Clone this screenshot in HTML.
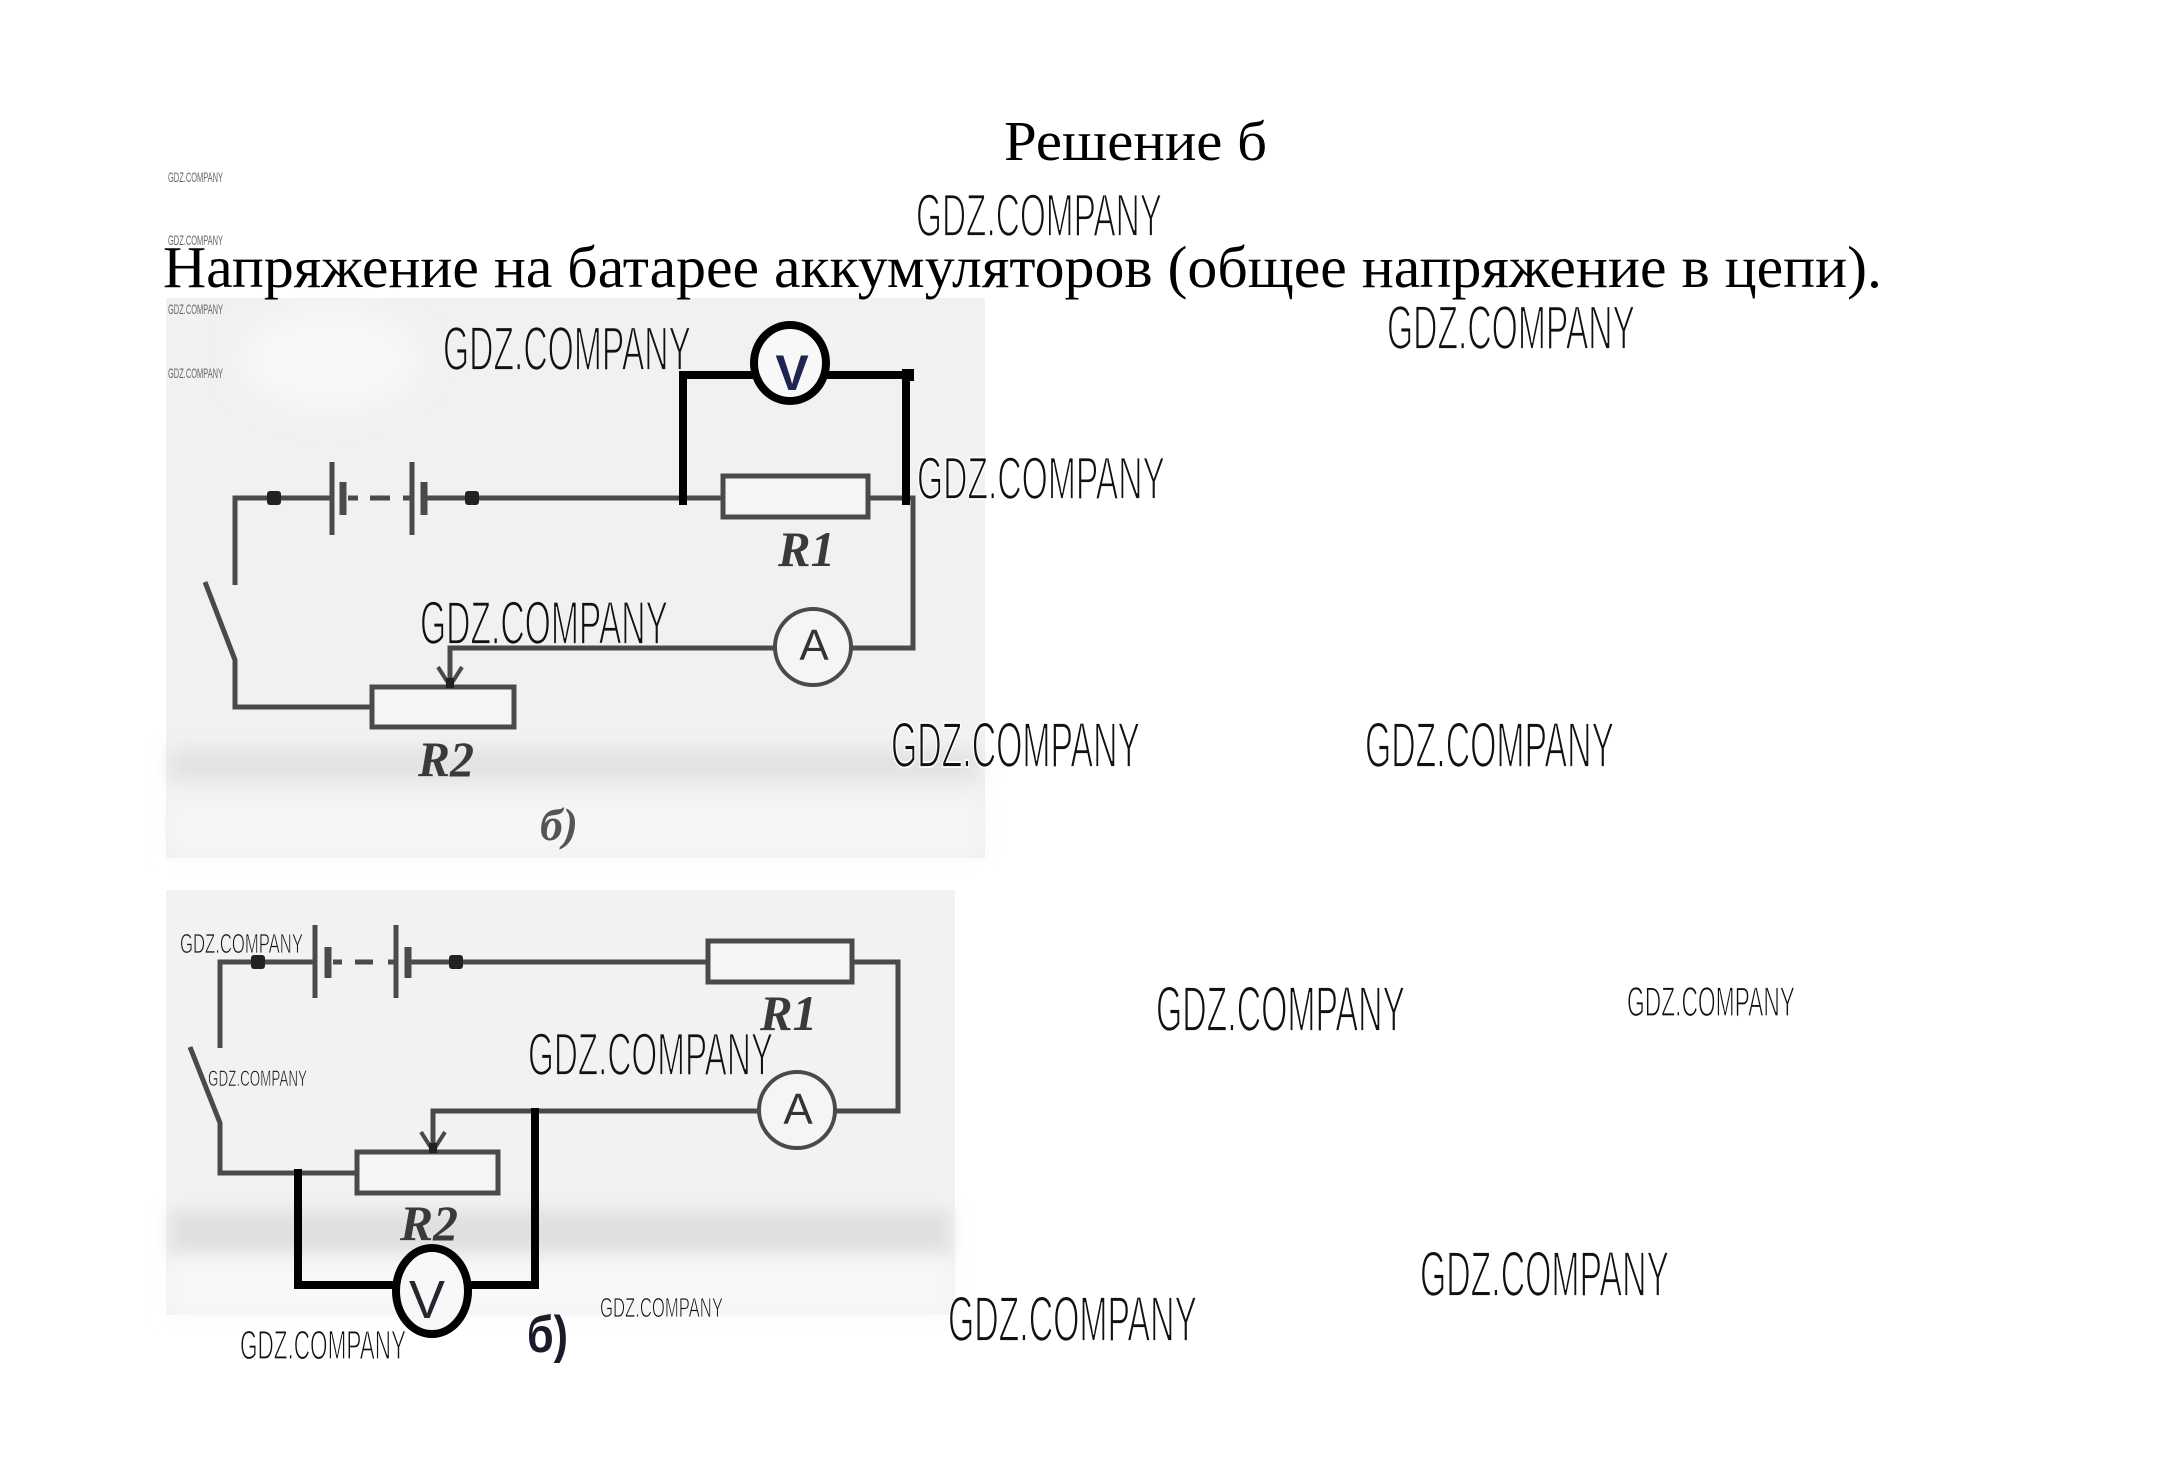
<!DOCTYPE html>
<html><head><meta charset="utf-8"><style>
html,body{margin:0;padding:0;background:#fff;}
svg{display:block;}
.wm{font-family:"Liberation Sans Narrow","Liberation Sans",sans-serif;fill:#111;stroke:#fff;stroke-width:1.8;}
.wg{stroke:#f1f1f1;}
.ws{font-family:"Liberation Sans Narrow","Liberation Sans",sans-serif;fill:#666;}
.ser{font-family:"Liberation Serif",serif;}
</style></head><body>
<svg width="2170" height="1472" viewBox="0 0 2170 1472" xmlns="http://www.w3.org/2000/svg">
<defs>
<filter id="bl" x="-50%" y="-50%" width="200%" height="200%"><feGaussianBlur stdDeviation="14"/></filter>
<filter id="bl2" x="-50%" y="-50%" width="200%" height="200%"><feGaussianBlur stdDeviation="9"/></filter>
</defs>
<rect width="2170" height="1472" fill="#fff"/>

<!-- scanned backgrounds -->
<rect x="166" y="298" width="819" height="560" fill="#f1f1f1"/>
<ellipse cx="330" cy="360" rx="90" ry="50" fill="#f8f8f8" filter="url(#bl)"/>
<rect x="170" y="750" width="810" height="30" fill="#e2e2e2" filter="url(#bl2)"/>
<rect x="170" y="800" width="810" height="55" fill="#f6f6f6" filter="url(#bl2)"/>
<rect x="166" y="890" width="789" height="425" fill="#f2f2f2"/>
<rect x="170" y="1210" width="780" height="44" fill="#e0e0e0" filter="url(#bl2)"/>
<rect x="170" y="1262" width="780" height="52" fill="#f8f8f8" filter="url(#bl2)"/>

<!-- Title and sentence -->
<text class="ser" x="1004" y="160" font-size="56" textLength="263" lengthAdjust="spacingAndGlyphs" fill="#000">Решение б</text>
<text class="ser" x="163" y="287" font-size="59" textLength="1719" lengthAdjust="spacingAndGlyphs" fill="#000">Напряжение на батарее аккумуляторов (общее напряжение в цепи).</text>

<!-- ===== Circuit 1 ===== -->
<g stroke="#4a4a4a" stroke-width="5" fill="none">
  <path d="M235,585 V498 H332"/>
  <path d="M424,498 H723"/>
  <rect x="723" y="476" width="145" height="41" fill="#f5f5f5"/>
  <path d="M868,498 H913 V648 H851"/>
  <circle cx="813" cy="647" r="38" fill="#f5f5f5" stroke-width="4"/>
  <path d="M775,648 H450 V687"/>
  <path d="M438,667 L450,686 L462,667" stroke-width="4"/>
  <path d="M205,582 L235,660 V707 H372"/>
  <rect x="372" y="687" width="142" height="40" fill="#f5f5f5"/>
  <!-- battery -->
  <path d="M332,462 V535"/>
  <path d="M343,482 V515" stroke-width="7"/>
  <path d="M348,498 H358 M370,498 H390 M403,498 H412"/>
  <path d="M412,462 V535"/>
  <path d="M424,482 V515" stroke-width="7"/>
</g>
<rect x="267" y="491" width="14" height="14" rx="3" fill="#222"/>
<rect x="465" y="491" width="14" height="14" rx="3" fill="#222"/>
<rect x="446" y="678" width="8" height="10" fill="#222"/>
<text x="814" y="660" font-family="Liberation Sans,sans-serif" font-size="44" text-anchor="middle" fill="#333">A</text>
<text class="ser" x="778" y="566" font-size="50" font-weight="bold" font-style="italic" textLength="57" lengthAdjust="spacingAndGlyphs" fill="#3a3a3a">R1</text>
<text class="ser" x="418" y="776" font-size="50" font-weight="bold" font-style="italic" textLength="56" lengthAdjust="spacingAndGlyphs" fill="#3a3a3a">R2</text>
<text class="ser" x="540" y="840" font-size="46" font-style="italic" font-weight="bold" textLength="38" lengthAdjust="spacingAndGlyphs" fill="#555">б)</text>
<!-- thick voltmeter -->
<g stroke="#000" stroke-width="8" fill="none">
  <path d="M683,505 V375 H753"/>
  <path d="M826,375 H906 V505"/>
  <ellipse cx="790" cy="363" rx="36" ry="38" fill="#f8f8f8"/>
</g>
<rect x="902" y="369" width="12" height="12" fill="#000"/>
<text x="792" y="390" font-family="Liberation Sans,sans-serif" font-size="50" font-weight="bold" text-anchor="middle" fill="#1d2550">V</text>

<!-- ===== Circuit 2 ===== -->
<g stroke="#4a4a4a" stroke-width="5" fill="none">
  <path d="M220,1048 V962 H315"/>
  <path d="M408,962 H708"/>
  <rect x="708" y="941" width="144" height="41" fill="#f5f5f5"/>
  <path d="M852,962 H898 V1111 H835"/>
  <circle cx="797" cy="1110" r="38" fill="#f5f5f5" stroke-width="4"/>
  <path d="M759,1111 H433 V1152"/>
  <path d="M421,1132 L433,1151 L445,1132" stroke-width="4"/>
  <path d="M190,1047 L220,1123 V1173 H357"/>
  <rect x="357" y="1152" width="141" height="41" fill="#f5f5f5"/>
  <path d="M315,925 V998"/>
  <path d="M328,947 V978" stroke-width="7"/>
  <path d="M333,962 H342 M355,962 H373 M388,962 H396"/>
  <path d="M396,925 V998"/>
  <path d="M408,947 V978" stroke-width="7"/>
</g>
<rect x="251" y="955" width="14" height="14" rx="3" fill="#222"/>
<rect x="449" y="955" width="14" height="14" rx="3" fill="#222"/>
<rect x="429" y="1143" width="8" height="10" fill="#222"/>
<text x="798" y="1124" font-family="Liberation Sans,sans-serif" font-size="44" text-anchor="middle" fill="#333">A</text>
<text class="ser" x="760" y="1030" font-size="50" font-weight="bold" font-style="italic" textLength="57" lengthAdjust="spacingAndGlyphs" fill="#3a3a3a">R1</text>
<text class="ser" x="400" y="1240" font-size="50" font-weight="bold" font-style="italic" textLength="58" lengthAdjust="spacingAndGlyphs" fill="#3a3a3a">R2</text>
<g stroke="#000" stroke-width="8" fill="none">
  <path d="M298,1169 V1285 H396"/>
  <path d="M468,1285 H535 V1108"/>
  <ellipse cx="432" cy="1291" rx="36" ry="43" fill="#f8f8f8"/>
</g>
<text x="427" y="1318" font-family="Liberation Sans,sans-serif" font-size="54" text-anchor="middle" fill="#2a2430">V</text>
<text x="527" y="1352" font-family="Liberation Sans,sans-serif" font-size="52" font-weight="bold" textLength="41" lengthAdjust="spacingAndGlyphs" fill="#1a1a2a">б)</text>

<!-- ===== watermarks ===== -->
<text class="ws" x="168" y="182" font-size="14" textLength="55" lengthAdjust="spacingAndGlyphs">GDZ.COMPANY</text>
<text class="ws" x="168" y="245" font-size="14" textLength="55" lengthAdjust="spacingAndGlyphs">GDZ.COMPANY</text>
<text class="ws" x="168" y="314" font-size="14" textLength="55" lengthAdjust="spacingAndGlyphs">GDZ.COMPANY</text>
<text class="ws" x="168" y="378" font-size="14" textLength="55" lengthAdjust="spacingAndGlyphs">GDZ.COMPANY</text>

<text class="wm" x="916" y="236" font-size="60" textLength="246" lengthAdjust="spacingAndGlyphs">GDZ.COMPANY</text>
<text class="wm" x="1387" y="349" font-size="62" textLength="248" lengthAdjust="spacingAndGlyphs">GDZ.COMPANY</text>
<text class="wm wg" x="443" y="370" font-size="62" textLength="248" lengthAdjust="spacingAndGlyphs">GDZ.COMPANY</text>
<text class="wm" x="917" y="499" font-size="60" textLength="248" lengthAdjust="spacingAndGlyphs">GDZ.COMPANY</text>
<text class="wm wg" x="420" y="644" font-size="61" textLength="248" lengthAdjust="spacingAndGlyphs">GDZ.COMPANY</text>
<text class="wm" x="891" y="767" font-size="64" textLength="249" lengthAdjust="spacingAndGlyphs">GDZ.COMPANY</text>
<text class="wm" x="1365" y="767" font-size="64" textLength="249" lengthAdjust="spacingAndGlyphs">GDZ.COMPANY</text>
<text class="wm" x="1156" y="1031" font-size="64" textLength="249" lengthAdjust="spacingAndGlyphs">GDZ.COMPANY</text>
<text class="wm wg" x="528" y="1075" font-size="60" textLength="245" lengthAdjust="spacingAndGlyphs">GDZ.COMPANY</text>
<text class="wm" x="1420" y="1296" font-size="64" textLength="249" lengthAdjust="spacingAndGlyphs">GDZ.COMPANY</text>
<text class="wm" x="948" y="1341" font-size="64" textLength="249" lengthAdjust="spacingAndGlyphs">GDZ.COMPANY</text>

<text class="wm" x="1627" y="1016" font-size="42" textLength="168" lengthAdjust="spacingAndGlyphs" style="stroke-width:1.2">GDZ.COMPANY</text>
<text class="wm" x="240" y="1359" font-size="41" textLength="166" lengthAdjust="spacingAndGlyphs" style="stroke-width:1.2">GDZ.COMPANY</text>
<text class="wm wg" x="180" y="953" font-size="28" textLength="123" lengthAdjust="spacingAndGlyphs" style="stroke-width:0.8">GDZ.COMPANY</text>
<text class="wm wg" x="208" y="1086" font-size="22" textLength="99" lengthAdjust="spacingAndGlyphs" style="stroke-width:0.6">GDZ.COMPANY</text>
<text class="wm" x="600" y="1317" font-size="28" textLength="123" lengthAdjust="spacingAndGlyphs" style="stroke-width:0.8">GDZ.COMPANY</text>
</svg>
</body></html>
